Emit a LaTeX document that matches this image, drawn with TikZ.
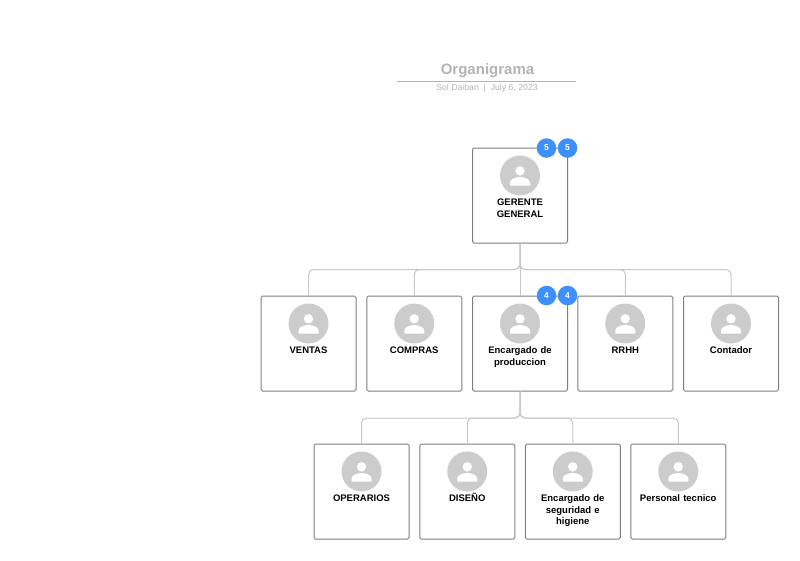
\documentclass[tikz,border=0pt]{standalone}
\usepackage{fontspec}
\setmainfont{Liberation Sans}
\definecolor{cardline}{HTML}{7F7F7F}
\definecolor{linkline}{HTML}{C8C8C8}
\definecolor{avatarfill}{HTML}{CCCCCC}
\definecolor{badgeblue}{HTML}{3D8FFA}
\definecolor{titlegray}{HTML}{B3B3B3}
\tikzset{
    card/.style={draw=cardline, line width=1pt, fill=white, rounded corners=1.5pt, minimum size=95pt, inner sep=0pt},
    cardtext/.style={anchor=north, text width=90pt, align=center, inner sep=0pt, font=\fontsize{9.5}{11.5}\selectfont\bfseries},
    badge/.style={circle, fill=badgeblue, text=white, minimum size=19.5pt, inner sep=0pt, font=\fontsize{8.5}{9}\selectfont\bfseries},
    link/.style={draw=linkline, line width=1pt, rounded corners=5pt},
}
\begin{document}
\begin{tikzpicture}[x=1pt, y=-1pt]
    \useasboundingbox (0,0) rectangle (800,560);
    % title
    \node[text=titlegray, font=\fontsize{15}{16}\selectfont\bfseries] (titulo) at (487.5,70.5) {Organigrama};
    \node[text=titlegray, font=\fontsize{8.7}{10}\selectfont] (autor) at (487,88.5) {Sol Daiban\ \ |\ \ July 6, 2023};
    \coordinate (reglaA) at (397,81.5);
    \coordinate (reglaB) at (576,81.5);
    \draw[titlegray, line width=1pt] (reglaA) -- (reglaB);
    % cards with avatar and text
    \foreach \nombre/\cx/\cy/\txt in {
        gerente/520/195.5/{GERENTE\\GENERAL},
        ventas/308.5/343.5/{VENTAS},
        compras/414.25/343.5/{COMPRAS},
        produccion/520/343.5/{Encargado de\\produccion},
        rrhh/625.25/343.5/{RRHH},
        contador/731/343.5/{Contador},
        operarios/361.5/491.5/{OPERARIOS},
        diseno/467.25/491.5/{DISEÑO},
        seguridad/572.75/491.5/{Encargado de\\seguridad e\\higiene},
        tecnico/678.25/491.5/{Personal tecnico}
    } {
        \node[card] (\nombre) at (\cx,\cy) {};
        \fill[avatarfill] (\cx,\cy-20) circle (20);
        \fill[white] (\cx,\cy-24.7) circle (4.7);
        \fill[white] (\cx-10,\cy-10) -- (\cx-10,\cy-13) .. controls (\cx-10,\cy-16.5) and (\cx-4,\cy-18.5) .. (\cx,\cy-18.5)
            .. controls (\cx+4,\cy-18.5) and (\cx+10,\cy-16.5) .. (\cx+10,\cy-13) -- (\cx+10,\cy-10) -- cycle;
        \node[cardtext] (\nombre-txt) at (\cx,\cy+1.7) {\rule{0pt}{8.5pt}\txt};
    }
    % connectors
    \foreach \hijo in {ventas,compras,rrhh,contador} {
        \draw[link] (gerente.south) -- ++(0,26) -| (\hijo.north);
    }
    \draw[link] (gerente.south) -- (produccion.north);
    \foreach \hijo in {operarios,diseno,seguridad,tecnico} {
        \draw[link] (produccion.south) -- ++(0,26.5) -| (\hijo.north);
    }
    % badges
    \node[badge] (badgeA) at (546.5,148) {5};
    \node[badge] (badgeB) at (567.5,148) {5};
    \node[badge] (badgeC) at (546.5,295.5) {4};
    \node[badge] (badgeD) at (567.5,295.5) {4};
\end{tikzpicture}
\end{document}
